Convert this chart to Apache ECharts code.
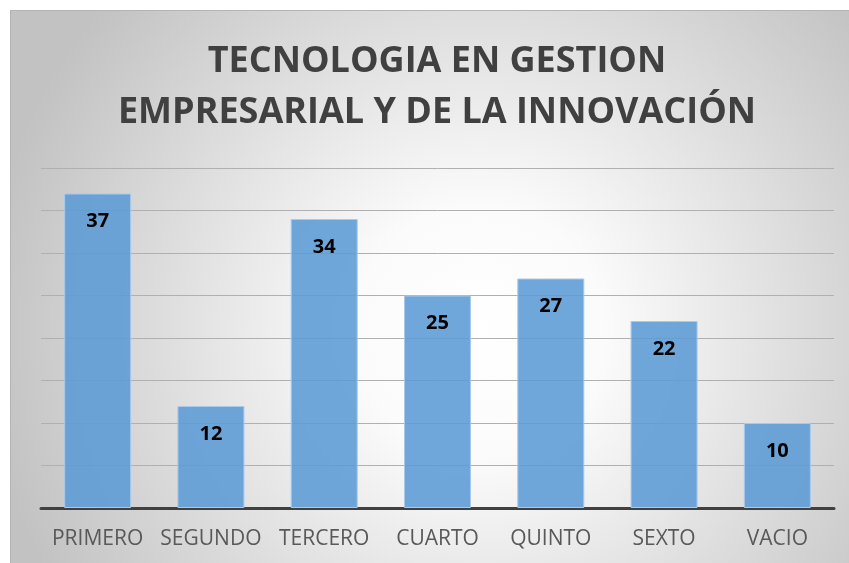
<!DOCTYPE html>
<html>
<head>
<meta charset="utf-8">
<script src="https://cdn.jsdelivr.net/npm/echarts@6/dist/echarts.min.js"></script>
<style>
html,body{margin:0;padding:0;background:#ffffff;}
#chart{width:849px;height:563px;}
</style>
</head>
<body>
<div id="chart"></div>
<script>
var titleText = 'TECNOLOGIA EN GESTION\nEMPRESARIAL Y DE LA INNOVACIÓN';
var categories = ['PRIMERO', 'SEGUNDO', 'TERCERO', 'CUARTO', 'QUINTO', 'SEXTO', 'VACIO'];
var values = [37, 12, 34, 25, 27, 22, 10];
var axisMin = 0, axisMax = 40, axisInterval = 5;

var chart = echarts.init(document.getElementById('chart'), null, {renderer: 'canvas'});
chart.setOption({
  animation: false,
  backgroundColor: '#ffffff',
  graphic: [
    {
      type: 'rect', z: -10, silent: true,
      shape: {x: 10, y: 10, width: 839, height: 553},
      style: {
        fill: new echarts.graphic.RadialGradient(0.56, 0.58, 0.9, [
          {offset: 0, color: '#ffffff'},
          {offset: 0.25, color: '#fbfbfb'},
          {offset: 1, color: '#c2c2c2'}
        ]),
        stroke: null
      }
    },
    {
      type: 'polyline', z: -9, silent: true,
      shape: {points: [[10.5, 563], [10.5, 10.5], [849, 10.5]]},
      style: {stroke: '#b4b4b4', lineWidth: 1, fill: null}
    }
  ],
  title: {
    text: titleText,
    left: 437,
    textAlign: 'center',
    top: 36,
    padding: 0,
    textStyle: {
      fontFamily: 'Open Sans',
      fontWeight: 'bold',
      fontSize: 36,
      lineHeight: 51,
      color: '#404040'
    }
  },
  grid: {left: 41, right: 15, top: 168, bottom: 55, containLabel: false},
  xAxis: {
    type: 'category',
    data: categories,
    axisLine: {show: true, lineStyle: {color: '#404040', width: 3}},
    axisTick: {show: false},
    axisLabel: {
      interval: 0,
      color: '#595959',
      fontFamily: 'Open Sans',
      fontSize: 21,
      lineHeight: 21,
      margin: 21
    }
  },
  yAxis: {
    type: 'value',
    min: axisMin, max: axisMax, interval: axisInterval,
    axisLabel: {show: false},
    axisLine: {show: false},
    axisTick: {show: false},
    splitLine: {show: true, lineStyle: {color: '#b0b0b0', width: 1}}
  },
  series: [{
    type: 'bar',
    data: values,
    barWidth: 67,
    itemStyle: {
      color: 'rgba(91,155,213,0.88)',
      borderColor: '#a8c9ec',
      borderWidth: 1
    },
    label: {
      show: true,
      position: 'insideTop',
      distance: 18,
      color: '#000000',
      fontFamily: 'Open Sans',
      fontWeight: 'bold',
      fontSize: 20,
      lineHeight: 20
    }
  }]
});
</script>
</body>
</html>
